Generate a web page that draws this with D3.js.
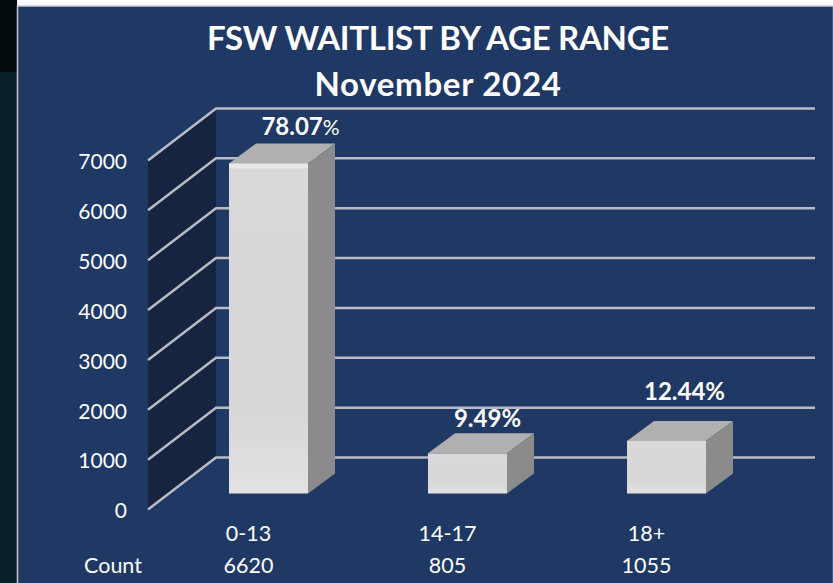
<!DOCTYPE html>
<html>
<head>
<meta charset="utf-8">
<script src="https://cdn.jsdelivr.net/npm/d3@7"></script>
<style>
  html, body { margin: 0; padding: 0; background: #fff; }
  svg { display: block; }
  text { font-family: Lato, "Open Sans", sans-serif; fill: #fff; }
</style>
</head>
<body>
<div id="wrapper"></div>
<script>
const categories = ['0-13', '14-17', '18+'];
const counts = [6620, 805, 1055];
const percents = ['78.07', '9.49', '12.44'];
const yTicks = [0, 1000, 2000, 3000, 4000, 5000, 6000, 7000];
const titleLines = ['FSW WAITLIST BY AGE RANGE', 'November 2024'];
const rowLabel = 'Count';

function drawChart() {
  const dimensions = { width: 833, height: 583 };
  const wall = { dx: 68, dy: -52 };     // floor depth of the 3d box
  const barPlane = { dx: 21, dy: -16 }; // where the bars stand in that depth
  const barDepth = { dx: 27, dy: -20 };

  const svg = d3
    .select('#wrapper')
    .append('svg')
    .attr('width', dimensions.width)
    .attr('height', dimensions.height);

  // the screenshot this came from: dark slide behind the panel
  svg.append('rect').attr('width', 17).attr('height', 583).attr('fill', '#05202b');
  svg.append('rect').attr('width', 17).attr('height', 72).attr('fill', '#010b0e');
  svg.append('rect')
    .attr('x', 17.5)
    .attr('y', 6)
    .attr('width', 816)
    .attr('height', 578)
    .attr('fill', '#1f3864')
    .attr('stroke', '#c9c9c9')
    .attr('stroke-width', 1.5);

  const defs = svg.append('defs');
  const front = defs.append('linearGradient')
    .attr('id', 'front')
    .attr('x1', 0).attr('x2', 0).attr('y1', 0).attr('y2', 1);
  front.append('stop').attr('offset', '0%').attr('stop-color', '#d9d9d9');
  front.append('stop').attr('offset', '75%').attr('stop-color', '#d7d7d7');
  front.append('stop').attr('offset', '100%').attr('stop-color', '#e2e2e2');

  const xScale = d3
    .scaleBand()
    .domain(categories)
    .range([148, 745])
    .paddingInner(0.603)
    .paddingOuter(0.3015);

  const yScale = d3.scaleLinear().domain([0, 7000]).range([509.5, 160.5]);

  const xLeft = xScale.range()[0];
  const xRight = xScale.range()[1];

  // side wall
  svg.append('polygon')
    .attr('points', [
      [xLeft, yScale(7000)],
      [xLeft + wall.dx, yScale(7000) + wall.dy],
      [xLeft + wall.dx, yScale(0) + wall.dy],
      [xLeft, yScale(0)],
    ].join(' '))
    .attr('fill', '#16243f');

  // gridlines run along the wall, then across the back
  svg.append('g')
    .selectAll('path')
    .data(yTicks)
    .join('path')
    .attr('d', (d) => {
      const y = yScale(d);
      return `M${xLeft},${y}L${xLeft + wall.dx},${y + wall.dy}L${xRight + wall.dx + 2},${y + wall.dy}`;
    })
    .attr('fill', 'none')
    .attr('stroke', '#b9bcc4')
    .attr('stroke-width', 2.5);

  const yAxis = d3
    .axisLeft(yScale)
    .tickValues(yTicks)
    .tickFormat(d3.format('d'))
    .tickSize(0)
    .tickPadding(21);
  const yAxisGroup = svg.append('g')
    .attr('transform', `translate(${xLeft},1.5)`)
    .call(yAxis);
  yAxisGroup.select('.domain').remove();
  yAxisGroup.selectAll('text')
    .style('font-family', 'Lato, sans-serif')
    .style('font-size', '21px');

  // bars
  const bars = svg.append('g')
    .selectAll('g')
    .data(categories.map((c, i) => ({ category: c, count: counts[i] })))
    .join('g')
    .attr('transform', `translate(${barPlane.dx},${barPlane.dy})`);

  const bx = (d) => xScale(d.category);
  const bw = xScale.bandwidth();

  bars.append('polygon')
    .attr('points', (d) => {
      const x = bx(d);
      const y = yScale(d.count);
      return [
        [x, y],
        [x + barDepth.dx, y + barDepth.dy],
        [x + bw + barDepth.dx, y + barDepth.dy],
        [x + bw, y],
      ].join(' ');
    })
    .attr('fill', '#b0b0b0');

  bars.append('polygon')
    .attr('points', (d) => {
      const x = bx(d) + bw;
      const y = yScale(d.count);
      return [
        [x, y],
        [x + barDepth.dx, y + barDepth.dy],
        [x + barDepth.dx, yScale(0) + barDepth.dy],
        [x, yScale(0)],
      ].join(' ');
    })
    .attr('fill', '#8b8b8b');

  bars.append('rect')
    .attr('x', bx)
    .attr('y', (d) => yScale(d.count))
    .attr('width', bw)
    .attr('height', (d) => yScale(0) - yScale(d.count))
    .attr('fill', 'url(#front)');

  // thin light bevel on the tall bar only
  bars.filter((d) => d.count > 5000)
    .append('rect')
    .attr('x', bx)
    .attr('y', (d) => yScale(d.count))
    .attr('width', bw)
    .attr('height', 5)
    .attr('fill', '#e8e8e8');

  // data labels sit by hand in the original, so each has its own nudge
  const labelNudge = [
    { x: 32, y: -28 },
    { x: 20, y: -26 },
    { x: 18, y: -41 },
  ];
  const labels = svg.append('g')
    .selectAll('text')
    .data(percents)
    .join('text')
    .attr('x', (d, i) => xScale(categories[i]) + barPlane.dx + bw / 2 + labelNudge[i].x)
    .attr('y', (d, i) => yScale(counts[i]) + barPlane.dy + labelNudge[i].y)
    .attr('text-anchor', 'middle')
    .style('font-size', '24px')
    .style('font-weight', 700);
  labels.append('tspan').text((d) => d);
  labels.append('tspan')
    .text('%')
    .style('font-size', (d, i) => (i === 0 ? '21px' : '24px'))
    .style('font-weight', (d, i) => (i === 0 ? 400 : 700));

  // table rows under the chart
  const rowX = (c) => xScale(c) + barPlane.dx + bw / 2 - 20;

  svg.append('g')
    .selectAll('text')
    .data(categories)
    .join('text')
    .attr('x', rowX)
    .attr('y', 541)
    .attr('text-anchor', 'middle')
    .style('font-size', '21.5px')
    .text((d) => d);

  svg.append('g')
    .selectAll('text')
    .data(counts)
    .join('text')
    .attr('x', (d, i) => rowX(categories[i]))
    .attr('y', 573)
    .attr('text-anchor', 'middle')
    .style('font-size', '21.5px')
    .text((d) => d);

  svg.append('text')
    .attr('x', 113)
    .attr('y', 573)
    .attr('text-anchor', 'middle')
    .style('font-size', '21.5px')
    .text(rowLabel);

  svg.append('g')
    .selectAll('text')
    .data(titleLines)
    .join('text')
    .attr('x', 438)
    .attr('y', (d, i) => 50 + i * 46)
    .attr('text-anchor', 'middle')
    .style('font-size', '33px')
    .style('font-weight', 700)
    .style('letter-spacing', (d, i) => (i === 0 ? '-0.3px' : '0.7px'))
    .text((d) => d);
}

drawChart();
</script>
</body>
</html>
